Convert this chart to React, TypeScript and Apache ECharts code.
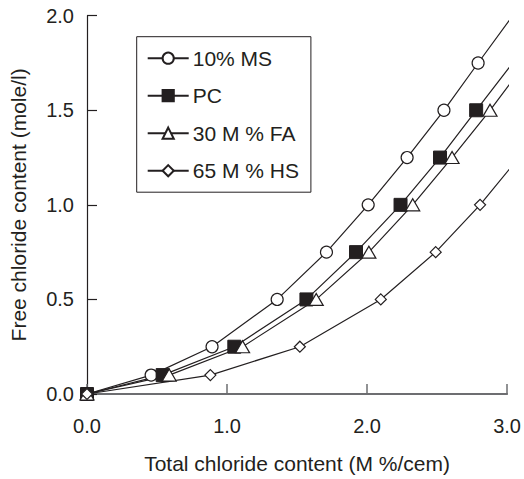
import React, { useEffect, useRef } from "react";
import * as echarts from "echarts";

const seriesNames = ["10% MS", "PC", "30 M % FA", "65 M % HS"];
const msX = [0, 0.458, 0.893, 1.358, 1.71, 2.008, 2.286, 2.549, 2.793];
const msY = [0, 0.1, 0.25, 0.5, 0.75, 1.0, 1.25, 1.5, 1.75];
const msEnd = [3.04, 2.0];
const pcX = [0, 0.54, 1.052, 1.567, 1.921, 2.239, 2.521, 2.779];
const pcY = [0, 0.1, 0.25, 0.5, 0.75, 1.0, 1.25, 1.5];
const pcEnd = [3.04, 1.75];
const faX = [0, 0.587, 1.111, 1.637, 2.013, 2.326, 2.607, 2.878];
const faY = [0, 0.1, 0.25, 0.5, 0.75, 1.0, 1.25, 1.5];
const faEnd = [3.04, 1.66];
const hsX = [0, 0.881, 1.52, 2.098, 2.49, 2.807];
const hsY = [0, 0.1, 0.25, 0.5, 0.75, 1.0];
const hsEnd = [3.04, 1.21];

const xTicks = [0, 1, 2, 3];
const yTicks = [0, 0.5, 1, 1.5, 2];

const INK = "#231f20";
const FONT = "Liberation Sans, Arial, sans-serif";

function build(xs: number[], ys: number[], end: number[]) {
  const d: any[] = xs.map((x, i) => [x, ys[i]]);
  d.push({ value: end, symbol: "none" });
  return d;
}

export default function App() {
  const ref = useRef<HTMLDivElement>(null);
  useEffect(() => {
    if (!ref.current) return;
    const chart = echarts.init(ref.current, undefined, { renderer: "svg" });
    const common = {
      type: "line",
      clip: false,
      lineStyle: { color: INK, width: 1.2 },
      itemStyle: { color: "#fff", borderColor: INK, borderWidth: 1.2 },
      emphasis: { disabled: true },
      z: 2,
    };
    chart.setOption({
      animation: false,
      backgroundColor: "#fff",
      textStyle: { fontFamily: FONT, color: INK },
      grid: { left: 86.7, right: 11.7, top: 15.7, bottom: 84 },
      legend: {
        show: true,
        orient: "vertical",
        left: 136.7,
        top: 36.7,
        width: 180.6,
        padding: [11, 12, 11, 10],
        borderColor: INK,
        borderWidth: 1,
        itemWidth: 41,
        itemHeight: 14,
        itemGap: 16.5,
        textStyle: { fontSize: 21, color: INK, fontFamily: FONT, padding: [0, 0, 0, -1] },
        data: seriesNames,
      },
      xAxis: {
        type: "value",
        min: 0,
        max: 3,
        interval: 1,
        name: "Total chloride content (M %/cem)",
        nameLocation: "middle",
        nameGap: 59,
        nameTextStyle: { fontSize: 21, color: INK, fontFamily: FONT },
        axisLine: { show: true, lineStyle: { color: "#6d6e71", width: 2 } },
        axisTick: { show: true, inside: true, length: 10, lineStyle: { color: "#6d6e71", width: 1.5 } },
        axisLabel: {
          fontSize: 20,
          color: INK,
          fontFamily: FONT,
          margin: 22,
          formatter: (v: number) => (xTicks.includes(v) ? v.toFixed(1) : ""),
        },
        splitLine: { show: false },
      },
      yAxis: {
        type: "value",
        min: 0,
        max: 2,
        interval: 0.5,
        name: "Free chloride content (mole/l)",
        nameLocation: "middle",
        nameGap: 58,
        nameTextStyle: { fontSize: 21, color: INK, fontFamily: FONT },
        axisLine: { show: true, lineStyle: { color: INK, width: 1.2 } },
        axisTick: { show: true, inside: true, length: 10, lineStyle: { color: INK, width: 1.2 } },
        axisLabel: {
          fontSize: 20,
          color: INK,
          fontFamily: FONT,
          margin: 13,
          formatter: (v: number) => (yTicks.includes(v) ? v.toFixed(1) : ""),
        },
        splitLine: { show: false },
      },
      series: [
        { ...common, name: seriesNames[0], symbol: "circle", symbolSize: 12, data: build(msX, msY, msEnd) },
        {
          ...common,
          name: seriesNames[1],
          symbol: "rect",
          symbolSize: 13,
          itemStyle: { color: INK, borderColor: INK, borderWidth: 1 },
          data: build(pcX, pcY, pcEnd),
        },
        { ...common, name: seriesNames[2], symbol: "triangle", symbolSize: [14, 12], data: build(faX, faY, faEnd) },
        { ...common, name: seriesNames[3], symbol: "diamond", symbolSize: 11, data: build(hsX, hsY, hsEnd) },
      ],
    });
    return () => chart.dispose();
  }, []);
  return (
    <div
      ref={ref}
      style={{ position: "fixed", left: 0, top: 0, width: 524, height: 479 }}
    />
  );
}
